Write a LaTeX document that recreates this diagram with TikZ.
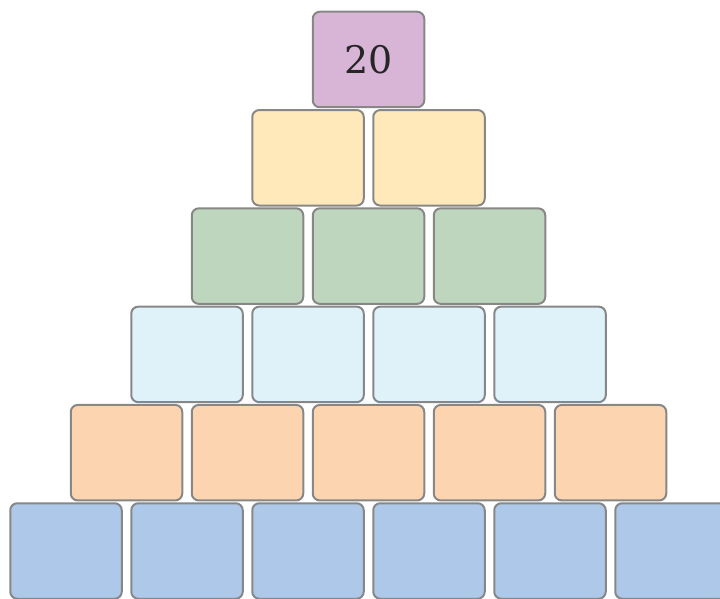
\documentclass[tikz,border=0pt]{standalone}
\usepackage{xcolor}
\usepackage{fontspec}
\newfontfamily\numfont{DejaVu Serif}

\definecolor{rowa}{HTML}{D8B5D7}
\definecolor{rowb}{HTML}{FFE9BA}
\definecolor{rowc}{HTML}{BFD6BE}
\definecolor{rowd}{HTML}{DFF2FA}
\definecolor{rowe}{HTML}{FCD5B0}
\definecolor{rowf}{HTML}{ADC8E8}
\definecolor{edge}{HTML}{878787}

\tikzset{
    brick/.style={draw=edge, line width=2pt, rounded corners=7pt,
        minimum width=111.5pt, minimum height=95.5pt, inner sep=0pt}
}

\begin{document}
\begin{tikzpicture}[x=1pt, y=1pt]
    \useasboundingbox (0,0) rectangle (720,-599);

    % rows of the pyramid, top to bottom
    \foreach \r/\col in {0/rowa, 1/rowb, 2/rowc, 3/rowd, 4/rowe, 5/rowf} {
        \foreach \k in {0,...,\r} {
            \node[brick, fill=\col] (b-\r-\k)
                at ({368.5 - 60.5*\r + 121*\k}, {-59.5 - 98.3*\r}) {};
        }
    }

    % the given number
    \node[text=black!85, font=\numfont\fontsize{38}{42}\selectfont] (top) at (b-0-0) {20};
\end{tikzpicture}
\end{document}
